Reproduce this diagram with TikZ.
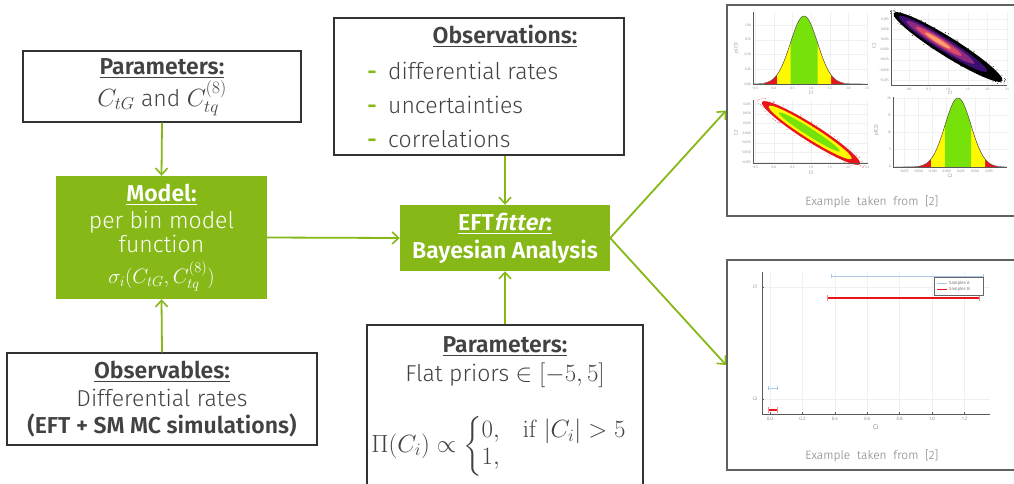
\documentclass[tikz,border=0pt]{standalone}
\usepackage{amsmath}
\usepackage[no-math]{fontspec}
\setmainfont{Fira Sans Light}[BoldFont={Fira Sans SemiBold},ItalicFont={Fira Sans Light Italic},BoldItalicFont={Fira Sans SemiBold Italic}]
\newfontfamily\eftsb{Fira Sans SemiBold}
\newfontfamily\eftsl{Fira Sans SemiBold}[FakeSlant=0.2]
\usetikzlibrary{arrows.meta}
\definecolor{eftgreen}{RGB}{134,184,23}
\definecolor{txt}{RGB}{66,66,66}
\definecolor{boxline}{RGB}{50,50,50}
\definecolor{hred}{RGB}{232,22,27}
\definecolor{hyel}{RGB}{255,250,0}
\definecolor{hgrn}{RGB}{118,226,10}
\definecolor{sampA}{RGB}{170,200,232}
\definecolor{dA}{RGB}{59,15,112}
\definecolor{dB}{RGB}{140,41,129}
\definecolor{dC}{RGB}{222,73,104}
\definecolor{dD}{RGB}{254,159,109}
\newcommand{\gfill}[7]{\fill[#7] (#5,#3) -- plot[domain=#5:#6,samples=40] (\x,{#3-#4*exp(-((\x-#1)/#2)*((\x-#1)/#2)/2)}) -- (#6,#3) -- cycle;}
\newcommand{\gline}[6]{\draw[gray!70!black,line width=0.5pt] plot[domain=#5:#6,samples=80] (\x,{#3-#4*exp(-((\x-#1)/#2)*((\x-#1)/#2)/2)});}
\newcommand{\hd}[1]{\underline{\textbf{#1}}}
\tikzset{
  plainbox/.style={draw=boxline,line width=1.1pt,fill=white,inner sep=0pt},
  greenbox/.style={fill=eftgreen,inner sep=0pt},
  boxtext/.style={font=\fontsize{23}{27}\selectfont,text=txt,anchor=base,inner sep=0pt},
  whitetext/.style={boxtext,text=white},
  arr/.style={draw=eftgreen,line width=1.8pt,-{Straight Barb[length=6.5pt,width=12pt,line width=1.6pt]}},
  plotbox/.style={draw=gray!75!black,line width=1.8pt,fill=white,inner sep=0pt},
  tick/.style={font=\fontsize{3.4}{3.6}\selectfont,text=gray!75!black,inner sep=0pt},
  alabel/.style={font=\fontsize{4.8}{5}\selectfont,text=gray!75!black,inner sep=0pt},
  gridl/.style={draw=gray!12,line width=0.3pt},
  ax/.style={draw=gray!70!black,line width=0.6pt},
  example/.style={font=\fontsize{12}{14}\selectfont,text=gray,inner sep=0pt},
}
\begin{document}
\begin{tikzpicture}[x=1pt,y=-1pt]
\clip (0,0) rectangle (1014,483);
\fill[white] (0,0) rectangle (1014,483);

% ---------- boxes ----------
\node[plainbox,minimum width=278pt,minimum height=71pt] (par1) at (162,86.5) {};
\node[greenbox,minimum width=211pt,minimum height=123pt] (model) at (161.5,237.5) {};
\node[plainbox,minimum width=310pt,minimum height=92pt] (obsv) at (162,399) {};
\node[plainbox,minimum width=290pt,minimum height=137pt] (obs) at (479,86.5) {};
\node[greenbox,minimum width=210pt,minimum height=66pt] (eft) at (505,238) {};
\node[plainbox,minimum width=276pt,minimum height=190pt] (par2) at (505,420) {};
\node[plotbox,minimum width=300pt,minimum height=211pt] (plotA) at (877,110.5) {};
\node[plotbox,minimum width=293pt,minimum height=210pt] (plotB) at (873.5,365) {};

% ---------- texts ----------
\node[boxtext] (par1h) at (162,74) {\hd{Parameters:}};
\node[boxtext] (par1t) at (162,106) {$C_{tG}$ and $C_{tq}^{(8)}$};

\node[whitetext] (modh) at (161.5,201) {\hd{Model:}};
\node[whitetext] (mod1) at (161.5,228) {per bin model};
\node[whitetext] (mod2) at (161.5,252) {function};
\node[whitetext,font=\fontsize{22}{26}\selectfont] (mod3) at (161.5,283) {$\sigma_i(C_{tG},C_{tq}^{(8)})$};

\node[boxtext] (obsvh) at (162,378) {\hd{Observables:}};
\node[boxtext] (obsv1) at (162,406) {Differential rates};
\node[boxtext] (obsv2) at (162,433) {\textbf{(EFT + SM MC simulations)}};

\node[boxtext] (obsh) at (505,43) {\hd{Observations:}};
\node[boxtext,text=eftgreen] (d1) at (372,79) {\textbf{-}};
\node[boxtext,text=eftgreen] (d2) at (372,113) {\textbf{-}};
\node[boxtext,text=eftgreen] (d3) at (372,147) {\textbf{-}};
\node[boxtext,anchor=base west] (o1) at (388,79) {differential rates};
\node[boxtext,anchor=base west] (o2) at (388,113) {uncertainties};
\node[boxtext,anchor=base west] (o3) at (388,147) {correlations};

\node[whitetext] (efth) at (505,230) {\underline{\eftsb EFT{\eftsl fitter}:}};
\node[whitetext] (eft2) at (505,258) {\textbf{Bayesian Analysis}};

\node[boxtext] (par2h) at (505,352) {\hd{Parameters:}};
\node[boxtext] (par21) at (505,381) {Flat priors $\in[-5,5]$};
\node[boxtext,anchor=center] (par22) at (499,446) {$\Pi(C_i)\propto\left\{\renewcommand{\arraystretch}{1.0}\begin{array}{@{}l@{\quad}l@{}}0, & \mathrm{if}\ |C_i|>5\\ 1, & \end{array}\right.$};

% ---------- arrows ----------
\draw[arr] (par1.south) -- (model.north);
\draw[arr] (obsv.north) -- (model.south);
\draw[arr] (model.east) -- (eft.west);
\draw[arr] (eft.north |- obs.south) -- (eft.north);
\draw[arr] (par2.north) -- (eft.south);
\draw[arr] (eft.east) -- (plotA.west);
\draw[arr] (eft.east) -- (plotB.west);

% ---------- panel 1 : p(C1) ----------
\foreach \k in {0,...,6} \draw[gridl] ({755+\k*18.7},12) -- ({755+\k*18.7},84);
\foreach \k in {0,...,4} \draw[gridl] (753,{84-\k*14.75}) -- (868,{84-\k*14.75});
\gfill{804}{13.5}{84}{68}{764}{844}{hred}
\gfill{804}{13.5}{84}{68}{777}{831}{hyel}
\gfill{804}{13.5}{84}{68}{790.5}{817.5}{hgrn}
\gline{804}{13.5}{84}{68}{754}{866}
\draw[ax] (753,12) -- (753,84) -- (868,84);
\foreach \v [count=\k from 0] in {−0.5,0.0,0.5,1.0,1.5,2.0,2.5} \node[tick] (pax\k) at ({755+\k*18.7},88) {\v};
\foreach \v [count=\k from 0] in {0.00,0.25,0.50,0.75,1.00} \node[tick,anchor=east] (pay\k) at (751,{84-\k*14.75}) {\v};
\node[alabel] (paxl) at (811,93) {C1};
\node[alabel,rotate=90] (payl) at (736,48) {p(C1)};

% ---------- panel 2 : density ----------
\foreach \k in {0,...,5} \draw[gridl] ({909+\k*19.6},12) -- ({909+\k*19.6},85);
\foreach \k in {0,...,6} \draw[gridl] (891,{19+\k*10.2}) -- (1007,{19+\k*10.2});
\begin{scope}[shift={(948,47)},rotate=-32]
\pgfmathsetseed{11}
\foreach \i in {1,...,160} {
  \pgfmathsetmacro\u{rand}
  \pgfmathsetmacro\w{rand}
  \fill[black] ({\u*68},{\w*11.5*sqrt(1-\u*\u)}) circle[radius=0.45];
}
\fill[black] (0,0) ellipse[x radius=64,y radius=9.5];
\fill[dA] (-6,0) ellipse[x radius=52,y radius=6.6];
\fill[dB] (-9,0) ellipse[x radius=40,y radius=4.8];
\fill[dC] (-11,0) ellipse[x radius=27,y radius=3.3];
\fill[dD] (-12,0) ellipse[x radius=15,y radius=2];
\end{scope}
\draw[ax] (891,12) -- (891,85) -- (1007,85);
\foreach \v [count=\k from 0] in {0.0,0.5,1.0,1.5,2.0,2.5} \node[tick] (pbx\k) at ({909+\k*19.6},89) {\v};
\foreach \v [count=\k from 0] in {0.075,0.050,0.025,0.000,−0.025,−0.050,−0.075} \node[tick,anchor=east] (pby\k) at (889,{19+\k*10.2}) {\v};
\node[alabel] (pbxl) at (950,93) {C1};
\node[alabel,rotate=90] (pbyl) at (874,46) {C2};

% ---------- panel 3 : credible regions ----------
\foreach \k in {0,...,6} \draw[gridl] ({755+\k*18.7},100) -- ({755+\k*18.7},163);
\foreach \k in {0,...,6} \draw[gridl] (753,{104+\k*9.7}) -- (868,{104+\k*9.7});
\begin{scope}[shift={(811,133)},rotate=-32.4]
\pgfmathsetseed{5}
\foreach \i in {1,...,220} {
  \pgfmathsetmacro\u{rand}
  \pgfmathsetmacro\w{rand}
  \fill[hred!70] ({\u*64},{\w*11*sqrt(1-\u*\u)}) circle[radius=0.45];
}
\fill[hred] (0,0) ellipse[x radius=58,y radius=8.6];
\fill[hyel] (-1,0) ellipse[x radius=49,y radius=6.2];
\fill[hgrn] (-2,0) ellipse[x radius=36,y radius=3.8];
\end{scope}
\draw[ax] (753,100) -- (753,163) -- (868,163);
\foreach \v [count=\k from 0] in {−0.5,0.0,0.5,1.0,1.5,2.0,2.5} \node[tick] (pcx\k) at ({755+\k*18.7},167) {\v};
\foreach \v [count=\k from 0] in {0.075,0.050,0.025,0.000,−0.025,−0.050,−0.075} \node[tick,anchor=east] (pcy\k) at (751,{104+\k*9.7}) {\v};
\node[alabel] (pcxl) at (811,173) {C1};
\node[alabel,rotate=90] (pcyl) at (736,133) {C2};

% ---------- panel 4 : p(C2) ----------
\foreach \k in {0,...,6} \draw[gridl] ({904+\k*14.2},97) -- ({904+\k*14.2},167);
\foreach \k in {0,...,4} \draw[gridl] (893,{166-\k*17}) -- (1007,{166-\k*17});
\gfill{958}{13}{167}{69}{918}{998}{hred}
\gfill{958}{13}{167}{69}{931}{985}{hyel}
\gfill{958}{13}{167}{69}{945}{971}{hgrn}
\gline{958}{13}{167}{69}{895}{1005}
\draw[ax] (893,97) -- (893,167) -- (1007,167);
\foreach \v [count=\k from 0] in {−0.075,−0.050,−0.025,0.000,0.025,0.050,0.075} \node[tick] (pdx\k) at ({904+\k*14.2},171) {\v};
\foreach \v [count=\k from 0] in {0,5,10,15,20} \node[tick,anchor=east] (pdy\k) at (891,{166-\k*17}) {\v};
\node[alabel] (pdxl) at (950,176) {C2};
\node[alabel,rotate=90] (pdyl) at (876,130) {p(C2)};

\node[example] (exA) at (872,202) {Example\ \ taken\ \ from\ \ [2]};

% ---------- interval plot ----------
\foreach \k in {0,...,6} \draw[gridl] ({770+\k*32.4},272) -- ({770+\k*32.4},414);
\draw[gridl] (762,287) -- (990,287);
\draw[gridl] (762,399) -- (990,399);
\draw[ax] (762,272) -- (762,414) -- (990,414);
\foreach \v [count=\k from 0] in {0.0,0.2,0.4,0.6,0.8,1.0,1.2} {
  \draw[ax,line width=0.3pt] ({770+\k*32.4},414) -- ({770+\k*32.4},412);
  \node[tick,font=\fontsize{4.8}{5}\selectfont] (qx\k) at ({770+\k*32.4},419) {\v};
}
\draw[ax,line width=0.3pt] (762,287) -- (764,287);
\draw[ax,line width=0.3pt] (762,399) -- (764,399);
\node[tick,font=\fontsize{4.8}{5}\selectfont] (qy1) at (755,287) {C1};
\node[tick,font=\fontsize{4.8}{5}\selectfont] (qy2) at (755,399) {C2};
\node[alabel,font=\fontsize{7}{7}\selectfont] (qxl) at (876,427) {Ci};
% samples A
\draw[sampA,line width=0.9pt] (831,276) -- (983,276);
\draw[sampA,line width=0.6pt] (831,274) -- (831,278) (983,274) -- (983,278);
\draw[sampA,line width=0.9pt] (768,388) -- (777,388);
\draw[sampA,line width=0.6pt] (768,386) -- (768,390) (777,386) -- (777,390);
% samples B
\draw[hred,line width=2.4pt] (827,298) -- (979,298);
\draw[hred!50,line width=0.7pt] (827,295) -- (827,301) (979,295) -- (979,301);
\draw[hred,line width=2.4pt] (768,410) -- (777,410);
\draw[hred!50,line width=0.7pt] (768,407) -- (768,413) (777,407) -- (777,413);
% legend
\node[draw=gray!80!black,line width=0.5pt,fill=white,minimum width=49pt,minimum height=18pt,inner sep=0pt] (leg) at (958.5,286) {};
\draw[sampA,line width=0.8pt] (937,283) -- (947,283);
\draw[hred,line width=0.8pt] (937,289) -- (947,289);
\node[tick,font=\fontsize{4.4}{4.5}\selectfont,text=gray!40!black,anchor=west] (legA) at (949,283) {Samples A};
\node[tick,font=\fontsize{4.4}{4.5}\selectfont,text=gray!40!black,anchor=west] (legB) at (949,289) {Samples B};

\node[example] (exB) at (872,456) {Example\ \ taken\ \ from\ \ [2]};
\end{tikzpicture}
\end{document}
